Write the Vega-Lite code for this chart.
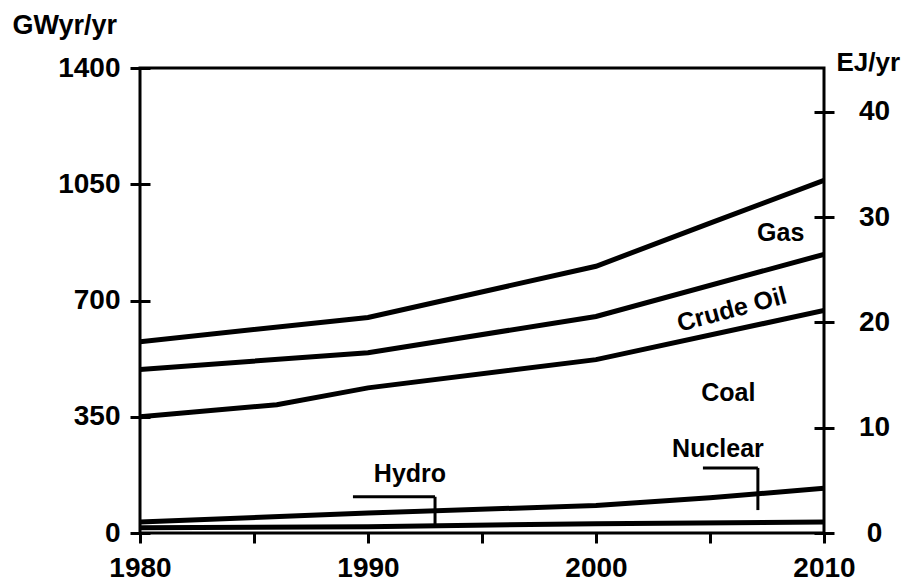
{
  "$schema": "https://vega.github.io/schema/vega-lite/v6.json",
  "width": 684,
  "height": 465,
  "autosize": "none",
  "padding": {"left": 140, "top": 68, "right": 98, "bottom": 50},
  "background": "white",
  "config": {
    "view": {"stroke": "black", "strokeWidth": 3},
    "font": "Liberation Sans",
    "axis": {"labelFont": "Liberation Sans", "labelFontWeight": "bold", "labelColor": "black", "titleFont": "Liberation Sans", "titleFontWeight": "bold", "titleColor": "black", "grid": false, "tickColor": "black", "tickWidth": 3, "labelOverlap": false, "labelFlush": false, "labelBound": false}
  },
  "datasets": {
    "curves": [
      {"series": "Hydro", "year": 1980, "value": 16},
      {"series": "Hydro", "year": 1990, "value": 19},
      {"series": "Hydro", "year": 2000, "value": 28},
      {"series": "Hydro", "year": 2010, "value": 33},
      {"series": "Nuclear", "year": 1980, "value": 33},
      {"series": "Nuclear", "year": 1990, "value": 60},
      {"series": "Nuclear", "year": 2000, "value": 83},
      {"series": "Nuclear", "year": 2005, "value": 106},
      {"series": "Nuclear", "year": 2010, "value": 135},
      {"series": "Coal", "year": 1980, "value": 350},
      {"series": "Coal", "year": 1986, "value": 386},
      {"series": "Coal", "year": 1990, "value": 437},
      {"series": "Coal", "year": 2000, "value": 522},
      {"series": "Coal", "year": 2010, "value": 670},
      {"series": "Crude Oil", "year": 1980, "value": 492},
      {"series": "Crude Oil", "year": 1990, "value": 543},
      {"series": "Crude Oil", "year": 2000, "value": 652},
      {"series": "Crude Oil", "year": 2010, "value": 839},
      {"series": "Gas", "year": 1980, "value": 576},
      {"series": "Gas", "year": 1990, "value": 649},
      {"series": "Gas", "year": 2000, "value": 803},
      {"series": "Gas", "year": 2005, "value": 933},
      {"series": "Gas", "year": 2010, "value": 1062}
    ],
    "leaders": [
      {"x1": 1989.34, "x2": 1992.94, "y1": 109, "y2": 109},
      {"x1": 1992.94, "x2": 1992.94, "y1": 109, "y2": 24},
      {"x1": 2004.69, "x2": 2007.1, "y1": 196, "y2": 196},
      {"x1": 2007.1, "x2": 2007.1, "y1": 196, "y2": 69}
    ],
    "labels": [
      {"label": "Gas", "year": 2008.1, "value": 902},
      {"label": "Coal", "year": 2005.8, "value": 422},
      {"label": "Nuclear", "year": 2005.35, "value": 252},
      {"label": "Hydro", "year": 1991.84, "value": 177}
    ],
    "angled": [
      {"label": "Crude Oil", "year": 2005.96, "value": 673}
    ]
  },
  "layer": [
    {
      "layer": [
        {
          "data": {"name": "curves"},
          "mark": {"type": "line", "color": "black", "strokeWidth": 5, "clip": true},
          "encoding": {
            "x": {
              "field": "year", "type": "quantitative",
              "scale": {"domain": [1980, 2010], "nice": false, "zero": false},
              "axis": {"values": [1980, 1985, 1990, 1995, 2000, 2005, 2010], "labelExpr": "datum.value % 10 == 0 ? datum.label : ''", "format": "d", "domain": false, "tickSize": 10, "labelFontSize": 28, "labelPadding": 11, "title": null}
            },
            "y": {
              "field": "value", "type": "quantitative",
              "scale": {"domain": [0, 1400], "nice": false},
              "axis": {"orient": "left", "values": [0, 350, 700, 1050, 1400], "format": "d", "domain": false, "offset": -10, "tickSize": 20, "labelFontSize": 28, "labelPadding": 10, "title": "GWyr/yr", "titleFontSize": 27, "titleAngle": 0, "titleAlign": "left", "titleBaseline": "middle", "titleX": -138, "titleY": -43}
            },
            "detail": {"field": "series"}
          }
        },
        {
          "data": {"name": "leaders"},
          "mark": {"type": "rule", "color": "black", "strokeWidth": 3},
          "encoding": {
            "x": {"field": "x1", "type": "quantitative"},
            "x2": {"field": "x2"},
            "y": {"field": "y1", "type": "quantitative"},
            "y2": {"field": "y2"}
          }
        },
        {
          "data": {"name": "labels"},
          "mark": {"type": "text", "font": "Liberation Sans", "fontWeight": "bold", "fontSize": 25, "color": "black", "align": "center", "baseline": "middle"},
          "encoding": {
            "x": {"field": "year", "type": "quantitative"},
            "y": {"field": "value", "type": "quantitative"},
            "text": {"field": "label"}
          }
        },
        {
          "data": {"name": "angled"},
          "mark": {"type": "text", "font": "Liberation Sans", "fontWeight": "bold", "fontSize": 25, "color": "black", "align": "center", "baseline": "middle", "angle": -15},
          "encoding": {
            "x": {"field": "year", "type": "quantitative"},
            "y": {"field": "value", "type": "quantitative"},
            "text": {"field": "label"}
          }
        }
      ]
    },
    {
      "data": {"name": "curves"},
      "mark": {"type": "point", "opacity": 0, "clip": true},
      "encoding": {
        "x": {"field": "year", "type": "quantitative"},
        "y": {
          "field": "value", "type": "quantitative",
          "scale": {"domain": [0, 44.15], "nice": false},
          "axis": {"orient": "right", "values": [0, 10, 20, 30, 40], "format": "d", "domain": false, "offset": -10, "tickSize": 20, "labelFontSize": 28, "labelAlign": "center", "labelPadding": 40, "title": "EJ/yr", "titleFontSize": 26, "titleAngle": 0, "titleAlign": "left", "titleBaseline": "middle", "titleX": 22, "titleY": -6}
        }
      }
    }
  ],
  "resolve": {"scale": {"y": "independent"}}
}
